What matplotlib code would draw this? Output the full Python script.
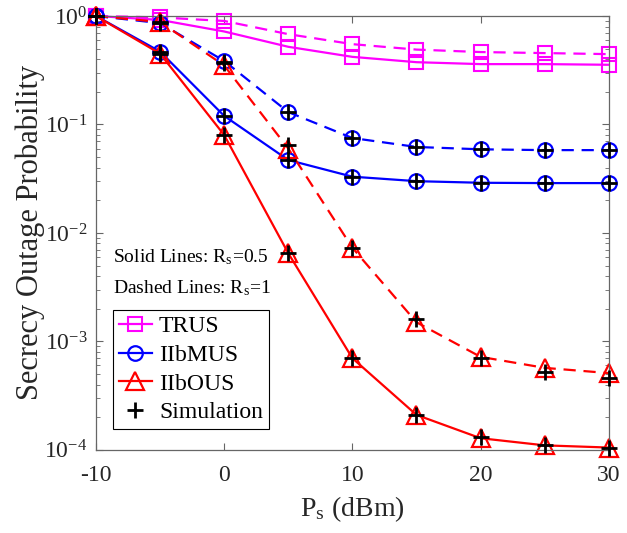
import numpy as np
import matplotlib
matplotlib.use('Agg')
import matplotlib.pyplot as plt
from matplotlib.lines import Line2D

plt.rcParams['font.family'] = ['Liberation Serif', 'DejaVu Serif']
plt.rcParams['mathtext.fontset'] = 'stix'

ps = [-10, -5, 0, 5, 10, 15, 20, 25, 30]

# analytical curves (solid: Rs=0.5, dashed: Rs=1)
trus_s = [1.0, 0.92, 0.72, 0.52, 0.42, 0.375, 0.36, 0.36, 0.355]
trus_d = [1.0, 0.97, 0.90, 0.68, 0.55, 0.49, 0.465, 0.455, 0.445]
mus_s = [1.0, 0.47, 0.12, 0.047, 0.033, 0.030, 0.029, 0.0288, 0.0288]
mus_d = [1.0, 0.86, 0.385, 0.13, 0.075, 0.062, 0.059, 0.058, 0.058]
ous_s = [1.0, 0.45, 0.08, 0.0065, 0.0007, 0.00021, 0.000128, 0.00011, 0.000105]
ous_d = [1.0, 0.88, 0.35, 0.06, 0.0073, 0.0015, 0.00072, 0.00057, 0.00051]

# simulation points
sim_mus_s = [1.0, 0.47, 0.12, 0.047, 0.033, 0.030, 0.029, 0.0288, 0.0288]
sim_mus_d = [1.0, 0.86, 0.38, 0.13, 0.075, 0.062, 0.059, 0.058, 0.058]
sim_ous_s = [1.0, 0.45, 0.08, 0.0065, 0.0007, 0.00021, 0.00013, 0.00011, 0.000105]
sim_ous_d = [1.0, 0.88, 0.37, 0.065, 0.0073, 0.0016, 0.0007, 0.00052, 0.00046]

fig = plt.figure(figsize=(6.27, 5.33), dpi=100)
ax = fig.add_axes([0.153, 0.156, 0.818, 0.814])

mag, blu, red = (1, 0, 1), (0, 0, 1), (1, 0, 0)
lw = 1.6
dsh = (5.5, 3.5)
sq = dict(marker='s', ms=10.5, mfc='none', mew=1.5)
ci = dict(marker='o', ms=10.5, mfc='none', mew=1.6)
tr = dict(marker='^', ms=12.5, mfc='none', mew=1.6)
pl = dict(marker='+', ms=11, mew=2, color='k', ls='none')

ax.plot(ps, trus_s, '-', color=mag, lw=lw, clip_on=False, **sq)
ax.plot(ps, trus_d, '--', color=mag, lw=lw, dashes=dsh, clip_on=False, **sq)
ax.plot(ps, mus_s, '-', color=blu, lw=lw, clip_on=False, **ci)
ax.plot(ps, mus_d, '--', color=blu, lw=lw, dashes=dsh, clip_on=False, **ci)
ax.plot(ps, ous_s, '-', color=red, lw=lw, clip_on=False, **tr)
ax.plot(ps, ous_d, '--', color=red, lw=lw, dashes=dsh, clip_on=False, **tr)
for sim in [sim_mus_s, sim_mus_d, sim_ous_s, sim_ous_d]:
    ax.plot(ps, sim, clip_on=False, zorder=3, **pl)

ax.set_yscale('log')
ax.set_xlim(-10, 30)
ax.set_ylim(1e-4, 1)
ax.set_xticks([-10, 0, 10, 20, 30])
ax.set_xticklabels(['-10', '0', '10', '20', '30'])
ax.tick_params(which='both', direction='in', top=True, right=True, labelsize=17,
               colors='0.4', labelcolor='0.15')
ax.tick_params(which='major', length=5)
ax.tick_params(which='minor', length=3)
ax.tick_params(axis='x', pad=11)
ax.tick_params(axis='y', pad=6)
for sp in ax.spines.values():
    sp.set_color('0.4')
    sp.set_linewidth(0.9)

ax.set_xlabel('P$_\\mathregular{s}$ (dBm)', fontsize=20, color='0.15', labelpad=6)
ax.set_ylabel('Secrecy Outage Probability', fontsize=22, color='0.15', labelpad=-0.5)

ax.text(0.033, 0.433, 'Solid Lines: R$_\\mathregular{s}$=0.5', transform=ax.transAxes, fontsize=14, color='k')
ax.text(0.033, 0.36, 'Dashed Lines: R$_\\mathregular{s}$=1', transform=ax.transAxes, fontsize=14, color='k')

handles = [
    Line2D([], [], color=mag, lw=lw, **sq),
    Line2D([], [], color=blu, lw=lw, **ci),
    Line2D([], [], color=red, lw=lw, **tr),
    Line2D([], [], **pl),
]
leg = ax.legend(handles, ['TRUS', 'IIbMUS', 'IIbOUS', 'Simulation'], loc='lower left',
                bbox_to_anchor=(0.033, 0.048), borderaxespad=0, fontsize=17,
                fancybox=False, edgecolor='k', framealpha=1, handlelength=1.4,
                handletextpad=0.3, borderpad=0.25, labelspacing=0.3)
leg.get_frame().set_linewidth(0.8)

fig.savefig('out.png', dpi=100)
